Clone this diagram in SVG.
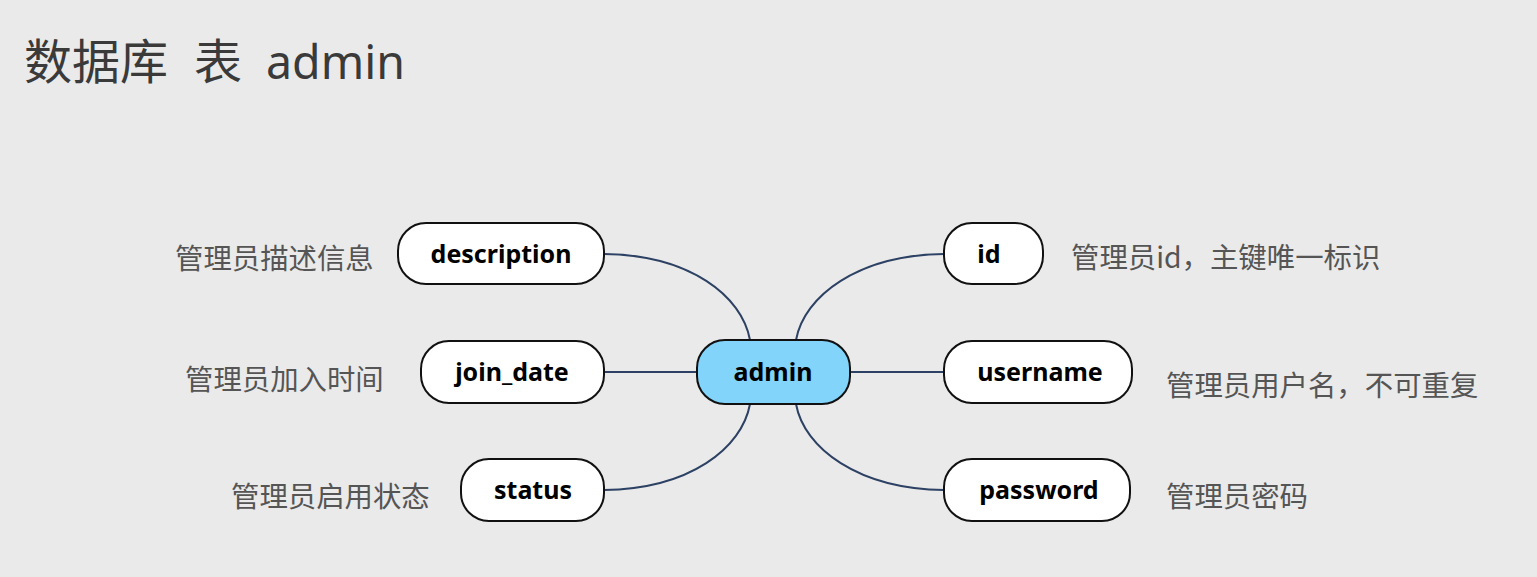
<svg xmlns="http://www.w3.org/2000/svg" width="1537" height="577" viewBox="0 0 1537 577">
<style>
.node rect{fill:#ffffff;stroke:#111111;stroke-width:2}
.node.root rect{fill:#82d4fb}
.node text{font-family:"Noto Sans","Noto Sans CJK SC",sans-serif;font-weight:bold;font-size:25px;fill:#000;text-anchor:middle}
.lbl{font-family:"Noto Sans CJK SC","Noto Sans",sans-serif;font-size:28.4px;fill:#555555}
.conn path{fill:none;stroke:#2c4163;stroke-width:2}
</style>
<rect width="1537" height="577" fill="#eaeaea"/>
<text y="79" font-family="Noto Sans CJK SC, Noto Sans, sans-serif" font-size="48" fill="#3a3a3a"><tspan x="24">数据库</tspan><tspan x="194">表</tspan><tspan x="266" font-family="Noto Sans, Noto Sans CJK SC, sans-serif" font-size="46.5">admin</tspan></text>
<g id="connectors" class="conn">
<path d="M604,254 C690,255 742,296 750,340"/>
<path d="M604,372 L697,372"/>
<path d="M604,490 C690,489 742,448 750,404"/>
<path d="M944,254 C858,255 804,296 796,340"/>
<path d="M850,372 L944,372"/>
<path d="M944,490 C858,489 804,448 796,404"/>
</g>
<g id="node-admin" class="node root"><rect x="697" y="340" width="153" height="64" rx="28"/><text x="773" y="381">admin</text></g>
<g id="node-description" class="node"><rect x="398" y="223" width="206" height="61" rx="28"/><text x="501" y="263">description</text></g>
<g id="node-join_date" class="node"><rect x="421" y="341" width="183" height="62" rx="28"/><text x="512" y="381">join_date</text></g>
<g id="node-status" class="node"><rect x="461" y="459" width="143" height="62" rx="28"/><text x="533" y="499">status</text></g>
<g id="node-id" class="node"><rect x="944" y="223" width="99" height="61" rx="28"/><text x="989" y="263">id</text></g>
<g id="node-username" class="node"><rect x="944" y="341" width="188" height="62" rx="28"/><text x="1040" y="381">username</text></g>
<g id="node-password" class="node"><rect x="944" y="459" width="186" height="62" rx="28"/><text x="1039" y="499">password</text></g>
<g id="labels">
<text class="lbl" x="175" y="269">管理员描述信息</text>
<text class="lbl" x="185" y="390">管理员加入时间</text>
<text class="lbl" x="231" y="507">管理员启用状态</text>
<text class="lbl" x="1071" y="268">管理员id，主键唯一标识</text>
<text class="lbl" x="1166" y="396">管理员用户名，不可重复</text>
<text class="lbl" x="1166" y="507">管理员密码</text>
</g>
</svg>
